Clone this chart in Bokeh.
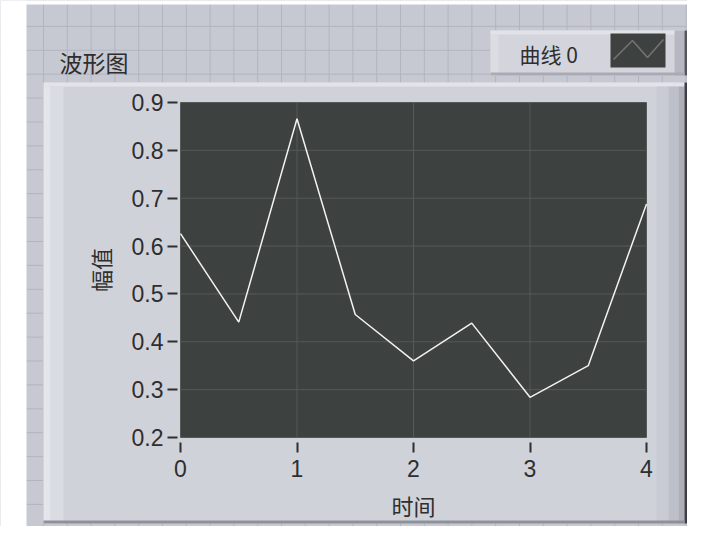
from bokeh.plotting import figure
from bokeh.models import FixedTicker, BoxAnnotation, Label, PolyAnnotation, Range1d, Span
from bokeh.embed import file_html
from bokeh.resources import INLINE

# ---- data ----
time = [0, 0.5, 1, 1.5, 2, 2.5, 3, 3.5, 4]
amplitude = [0.626, 0.441, 0.866, 0.457, 0.360, 0.439, 0.284, 0.350, 0.688]
x_ticks = [0, 1, 2, 3, 4]
y_ticks = [0.2, 0.3, 0.4, 0.5, 0.6, 0.7, 0.8, 0.9]
title_text = "波形图"
legend_text = "曲线 0"
x_label = "时间"
y_label = "幅值"

# ---- layout (canvas pixels) ----
W, H = 687, 526
PL, PR, PT, PB = 180, 646, 102, 437      # plot-area edges
CJK = "Noto Sans CJK SC"
NUM = "Liberation Sans"
TXT = "#2e2e2e"
PLOT_BG = "#3d413f"

x0, x1 = x_ticks[0], x_ticks[-1]
y0, y1 = y_ticks[0], y_ticks[-1]
sx = (x1 - x0) / (PR - PL)
sy = (y1 - y0) / (PB - PT)

p = figure(width=W, height=H, output_backend="svg", toolbar_location=None,
           title_location=None,
           x_range=Range1d(x0 - PL * sx, x1 + (W - PR) * sx),
           y_range=Range1d(y0 - (H - PB) * sy, y1 + PT * sy),
           min_border=0, min_border_left=0, min_border_right=0,
           min_border_top=0, min_border_bottom=0)
p.background_fill_color = "#c6c8d2"
p.border_fill_color = "#c6c8d2"
p.outline_line_color = None
p.xgrid.visible = False
p.ygrid.visible = False


def sbox(a, b, c, d, color, level="underlay"):
    p.add_layout(BoxAnnotation(left=a, right=c, top=H - b, bottom=H - d,
                               left_units="screen", right_units="screen",
                               top_units="screen", bottom_units="screen",
                               fill_color=color, fill_alpha=1.0, line_color=None,
                               level=level))


# background front-panel grid pattern
k = 0
while 43 + 23.8 * k < W:
    p.add_layout(Span(location=43 + 23.8 * k, location_units="screen", dimension="height",
                      line_color="#b2b4c0", line_width=1, level="underlay"))
    k += 1
k = 0
while 2 + 23.9 * k < H:
    p.add_layout(Span(location=H - (2 + 23.9 * k), location_units="screen", dimension="width",
                      line_color="#b2b4c0", line_width=1, level="underlay"))
    k += 1
sbox(0, 0, 26, H, "#ffffff")
sbox(0, 0, W, 4, "#ffffff")

# bevelled graph panel
sbox(43, 82, 687, 523, "#d0d2da")
sbox(43, 82, 687, 86, "#e3e4ea")
sbox(43, 86, 50, 523, "#e4e5ea")
sbox(50, 86, 63, 523, "#dadce3")
sbox(656, 86, 668, 523, "#c9cbd3")
sbox(668, 86, 678, 523, "#bec0c9")
sbox(678, 86, 684, 523, "#aeb0b9")
sbox(684, 82, 687, 523, "#3e3e44")
sbox(43, 520, 684, 523, "#8f919a")

# plot area, grid and waveform (data space)
p.quad(left=[x0], right=[x1], bottom=[y0], top=[y1],
       fill_color=PLOT_BG, line_color="#cdd0d4", line_width=1)
p.segment(x0=x_ticks, y0=[y0] * len(x_ticks), x1=x_ticks, y1=[y1] * len(x_ticks),
          line_color="#555a57", line_width=1)
p.segment(x0=[x0] * len(y_ticks), y0=y_ticks, x1=[x1] * len(y_ticks), y1=y_ticks,
          line_color="#555a57", line_width=1)
p.line(time, amplitude, line_color="#f2f2f2", line_width=1.5)

# axes pinned to the plot-area edges
p.xaxis.fixed_location = y0
p.yaxis.fixed_location = x0
p.xaxis.bounds = (x0, x1)
p.yaxis.bounds = (y0, y1)
p.xaxis.ticker = FixedTicker(ticks=x_ticks)
p.yaxis.ticker = FixedTicker(ticks=y_ticks)
for ax in (p.xaxis[0], p.yaxis[0]):
    ax.axis_line_color = None
    ax.minor_tick_line_color = None
    ax.major_tick_line_color = TXT
    ax.major_tick_line_width = 2
    ax.major_label_text_font = NUM
    ax.major_label_text_font_size = "23px"
    ax.major_label_text_color = TXT
    ax.axis_label_text_font = CJK
    ax.axis_label_text_font_size = "22px"
    ax.axis_label_text_font_style = "normal"
    ax.axis_label_text_color = TXT
p.xaxis.major_tick_in = -5
p.xaxis.major_tick_out = 15
p.xaxis.major_label_standoff = 7
p.xaxis.axis_label = x_label
p.xaxis.axis_label_standoff = 9
p.yaxis.major_tick_in = -3
p.yaxis.major_tick_out = 13
p.yaxis.major_label_standoff = 4
p.yaxis.axis_label = y_label
p.yaxis.axis_label_standoff = 13

# legend (plot legend box with swatch)
sbox(490, 30, 687, 75, "#d4d5dc", level="overlay")
sbox(490, 30, 687, 34, "#e2e3e8", level="overlay")
sbox(490, 34, 498, 75, "#dcdde3", level="overlay")
sbox(674, 30, 684, 75, "#b6b8c1", level="overlay")
sbox(684, 30, 687, 75, "#55565c", level="overlay")
sbox(490, 72, 684, 75, "#a9abb4", level="overlay")
sbox(610, 33, 665, 67, PLOT_BG, level="overlay")
zig_x = [613, 632, 647, 663, 647, 632]
zig_y = [59, 40, 57, 39, 57, 40]
p.add_layout(PolyAnnotation(xs=zig_x, ys=[H - y for y in zig_y],
                            xs_units="screen", ys_units="screen",
                            fill_alpha=0, line_color="#f0f0f0", line_width=1.5,
                            level="overlay"))
p.add_layout(Label(x=519, y=H - 53, x_units="screen", y_units="screen",
                   text=legend_text, text_font=CJK, text_font_size="21px",
                   text_color=TXT, text_baseline="middle", level="overlay"))
p.add_layout(Label(x=59, y=H - 61, x_units="screen", y_units="screen",
                   text=title_text, text_font=CJK, text_font_size="23px",
                   text_color=TXT, text_baseline="middle", level="overlay"))

open("out.html", "w").write(file_html(p, INLINE))
